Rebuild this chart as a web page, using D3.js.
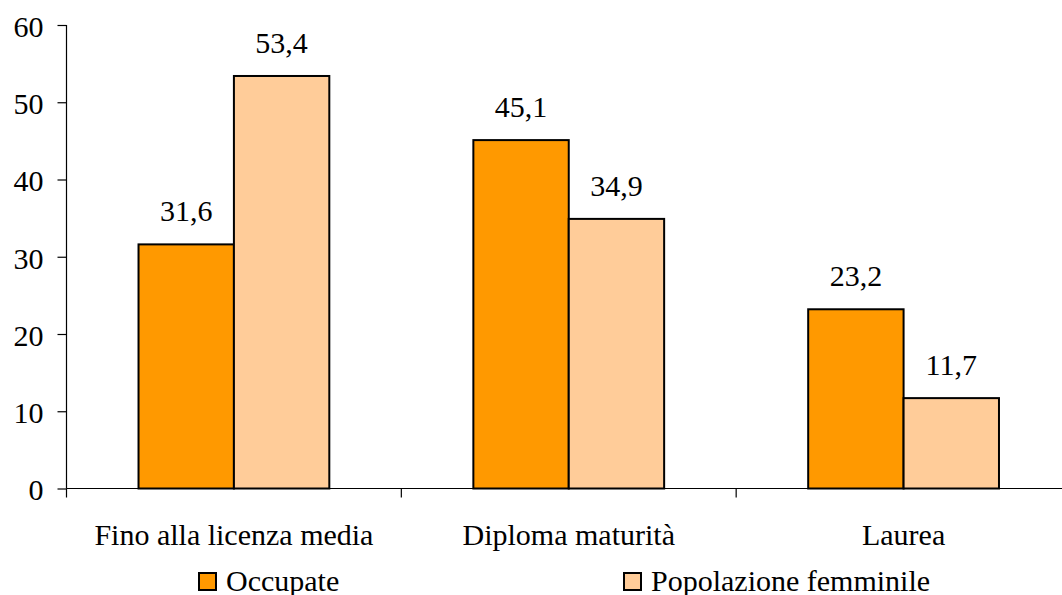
<!DOCTYPE html>
<html>
<head>
<meta charset="utf-8">
<script src="https://cdn.jsdelivr.net/npm/d3@7"></script>
<style>
  body { margin: 0; background: #fff; }
</style>
</head>
<body>
<svg id="chart" width="1062" height="595"></svg>
<script>
const categories = ['Fino alla licenza media', 'Diploma maturità', 'Laurea'];
const seriesNames = ['Occupate', 'Popolazione femminile'];
const occupate = [31.6, 45.1, 23.2];
const popolazione = [53.4, 34.9, 11.7];
const yTicks = [0, 10, 20, 30, 40, 50, 60];
const colors = ['#FF9900', '#FFCC99'];

const FONT = '"Liberation Serif"';
const FSIZE = '30px';
const data = categories.map((c, i) => ({ cat: c, values: [occupate[i], popolazione[i]] }));

const svg = d3.select('#chart');
const plotLeft = 66.5, plotRight = 1071, plotTop = 25, plotBottom = 488.5;

const x = d3.scaleBand().domain(categories).range([plotLeft, plotRight]).paddingInner(0).paddingOuter(0);
const inner = d3.scaleBand().domain(seriesNames).range([0, x.bandwidth()]).paddingInner(0).paddingOuter(0.755);
const y = d3.scaleLinear().domain([0, 60]).range([plotBottom, plotTop]);

// y axis
const yAxis = svg.append('g')
  .attr('transform', `translate(${plotLeft},0)`)
  .call(d3.axisLeft(y).tickValues(yTicks).tickSize(9).tickPadding(14).tickFormat(d3.format('d')));
yAxis.selectAll('path, line').attr('stroke', '#000').attr('stroke-width', 1.2);
yAxis.select('.domain').attr('d', `M0,${plotTop}V${plotBottom}`);
yAxis.selectAll('text').style('font-family', FONT).style('font-size', FSIZE).attr('dy', '0.38em').attr('fill', '#000');

// x axis line with ticks at band boundaries
const bounds = categories.map(c => x(c)).concat([plotRight]);
svg.append('line').attr('x1', plotLeft).attr('x2', plotRight).attr('y1', plotBottom).attr('y2', plotBottom)
  .attr('stroke', '#000').attr('stroke-width', 1.2);
svg.selectAll('.xtick').data(bounds).enter().append('line')
  .attr('x1', d => d).attr('x2', d => d).attr('y1', plotBottom).attr('y2', plotBottom + 9)
  .attr('stroke', '#000').attr('stroke-width', 1.2);

svg.selectAll('.xlabel').data(categories).enter().append('text')
  .attr('x', d => x(d) + x.bandwidth() / 2)
  .attr('y', 545)
  .attr('text-anchor', 'middle')
  .style('font-family', FONT)
  .style('font-size', FSIZE)
  .text(d => d);

// bars
const groups = svg.selectAll('.grp').data(data).enter().append('g')
  .attr('transform', d => `translate(${x(d.cat)},0)`);

groups.selectAll('rect')
  .data(d => d.values.map((v, i) => ({ name: seriesNames[i], v, i })))
  .enter().append('rect')
  .attr('x', d => inner(d.name))
  .attr('y', d => y(d.v))
  .attr('width', inner.bandwidth())
  .attr('height', d => plotBottom - y(d.v))
  .attr('fill', d => colors[d.i])
  .attr('stroke', '#000')
  .attr('stroke-width', 2);

groups.selectAll('.val')
  .data(d => d.values.map((v, i) => ({ name: seriesNames[i], v, i })))
  .enter().append('text')
  .attr('x', d => inner(d.name) + inner.bandwidth() / 2)
  .attr('y', d => y(d.v) - 23)
  .attr('text-anchor', 'middle')
  .style('font-family', FONT)
  .style('font-size', FSIZE)
  .text(d => d3.format('.1f')(d.v).replace('.', ','));

// legend
const legendX = [199, 624];
const leg = svg.selectAll('.leg').data(seriesNames).enter().append('g')
  .attr('transform', (d, i) => `translate(${legendX[i]},573)`);
leg.append('rect').attr('width', 17).attr('height', 17)
  .attr('fill', (d, i) => colors[i]).attr('stroke', '#000').attr('stroke-width', 2);
leg.append('text').attr('x', 27).attr('y', 18)
  .style('font-family', FONT)
  .style('font-size', FSIZE)
  .text(d => d);
</script>
</body>
</html>
